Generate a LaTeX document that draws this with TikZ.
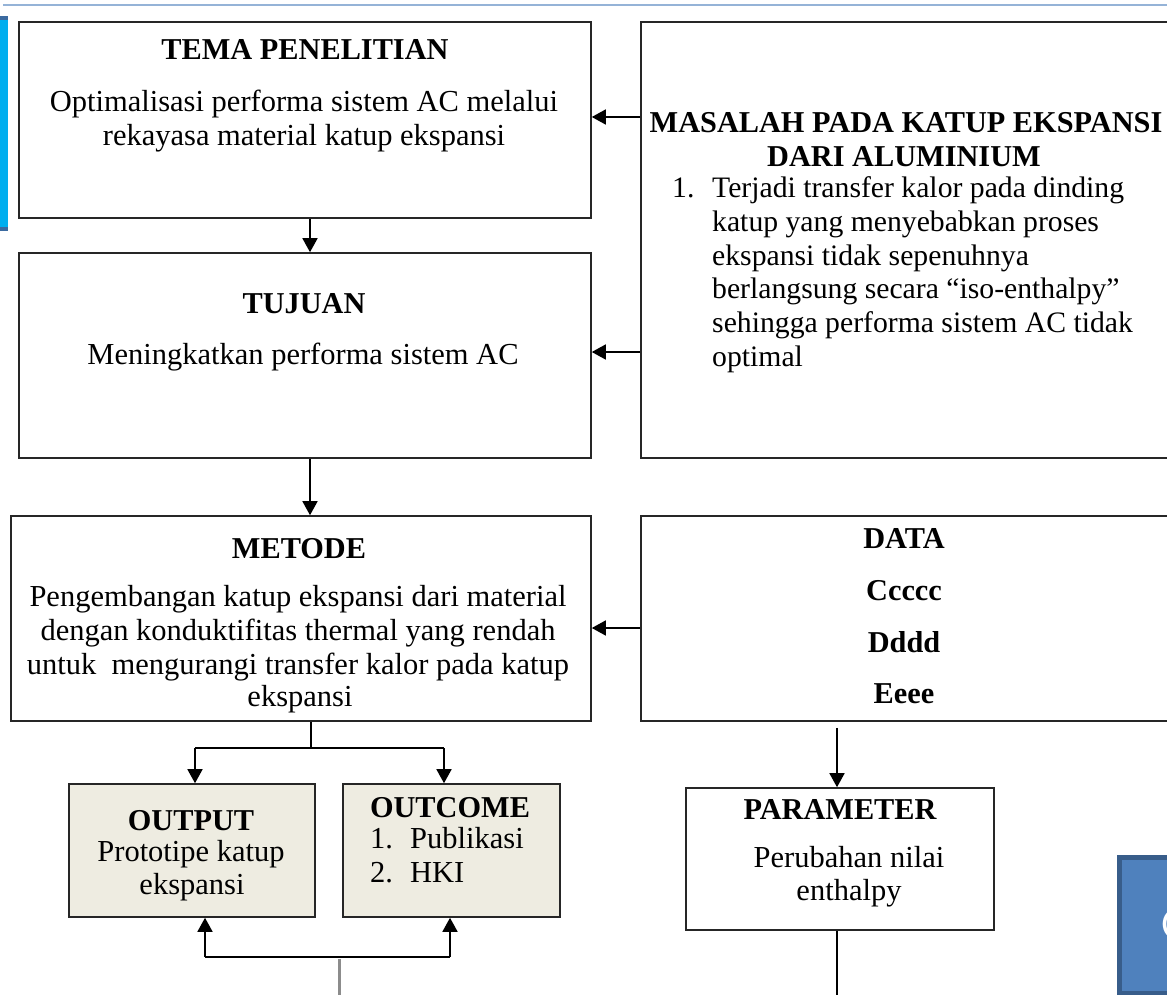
\documentclass[tikz,border=0pt]{standalone}
\usepackage{fontspec}
\setmainfont{Liberation Serif}
\usetikzlibrary{arrows.meta,calc}
\definecolor{boxline}{HTML}{262626}
\definecolor{beige}{HTML}{EEECE1}
\definecolor{topline}{HTML}{95B3D7}
\definecolor{barcyan}{HTML}{00AEEF}
\definecolor{bardark}{HTML}{3B6AA0}
\definecolor{accfill}{HTML}{4F81BD}
\definecolor{accline}{HTML}{385D8A}
\definecolor{grayline}{HTML}{8C8C8C}
\begin{document}
\begin{tikzpicture}[x=1pt,y=-1pt,
  box/.style={draw=boxline,line width=1.6pt,rectangle,inner sep=0pt,fill=white},
  shaded/.style={box,fill=beige},
  arr/.style={draw=black,line width=1.6pt,-{Triangle[width=15pt,length=14pt]}},
  ln/.style={draw=black,line width=1.6pt},
  txt/.style={font=\fontsize{30.5}{34}\selectfont,inner sep=0pt},
  lst/.style={font=\fontsize{29.7}{34}\selectfont,inner sep=0pt},
  hd/.style={font=\fontsize{30.3}{34}\selectfont\bfseries,inner sep=0pt}]
\useasboundingbox (0,0) rectangle (1167,995);

% decorations
\draw[topline,line width=2.5pt] (3,5) -- (1172,5);
\fill[barcyan] (0,16) rectangle (8,231);
\fill[bardark] (0,16) rectangle (8,20);
\fill[bardark] (0,227) rectangle (8,231);
\node[draw=accline,line width=5pt,fill=accfill,rectangle,inner sep=0pt,
  minimum width=60pt,minimum height=136pt] (acc) at (1149,925) {};
\node[anchor=west,text=white,font=\fontsize{44}{50}\selectfont\sffamily,inner sep=0pt] (acct) at (1160,924) {C};

% boxes
\node[box,minimum width=572pt,minimum height=196pt] (tema) at (305,120) {};
\node[box,minimum width=572pt,minimum height=205pt] (tujuan) at (305,355.5) {};
\node[box,minimum width=531pt,minimum height=436pt] (masalah) at (906.5,240) {};
\node[box,minimum width=580pt,minimum height=205pt] (metode) at (301,618.5) {};
\node[box,minimum width=531pt,minimum height=205pt] (data) at (906.5,618.5) {};
\node[shaded,minimum width=246pt,minimum height=133pt] (output) at (192,850.5) {};
\node[shaded,minimum width=217pt,minimum height=133pt] (outcome) at (451.5,850.5) {};
\node[box,minimum width=308pt,minimum height=142pt] (param) at (840,859) {};

% TEMA
\node[hd,anchor=base] (t1) at (305,60) {TEMA PENELITIAN};
\node[txt,anchor=base] (t2) at (304,112) {Optimalisasi performa sistem AC melalui};
\node[txt,anchor=base] (t3) at (304,146) {rekayasa material katup ekspansi};

% MASALAH
\node[hd,anchor=base] (m1) at (906,133) {MASALAH PADA KATUP EKSPANSI};
\node[hd,anchor=base] (m2) at (904,167) {DARI ALUMINIUM};
\node[lst,anchor=base west] (mn) at (672,198) {1.};
\node[lst,anchor=base west] (m3) at (712,198) {Terjadi transfer kalor pada dinding};
\node[lst,anchor=base west] (m4) at (712,231.6) {katup yang menyebabkan proses};
\node[lst,anchor=base west] (m5) at (712,265.2) {ekspansi tidak sepenuhnya};
\node[lst,anchor=base west] (m6) at (712,298.8) {berlangsung secara “iso-enthalpy”};
\node[lst,anchor=base west] (m7) at (712,332.4) {sehingga performa sistem AC tidak};
\node[lst,anchor=base west] (m8) at (712,366) {optimal};

% TUJUAN
\node[hd,anchor=base] (u1) at (304,313) {TUJUAN};
\node[txt,anchor=base] (u2) at (303,364) {Meningkatkan performa sistem AC};

% METODE
\node[hd,anchor=base] (d1) at (299,558) {METODE};
\node[txt,anchor=base] (d2) at (298,606) {Pengembangan katup ekspansi dari material};
\node[txt,anchor=base] (d3) at (298,640) {dengan konduktifitas thermal yang rendah};
\node[txt,anchor=base] (d4) at (298,674) {untuk~ mengurangi transfer kalor pada katup};
\node[txt,anchor=base] (d5) at (300,706) {ekspansi};

% DATA
\node[hd,anchor=base] (a1) at (904,548) {DATA};
\node[hd,anchor=base] (a2) at (904,600) {Ccccc};
\node[hd,anchor=base] (a3) at (904,652) {Dddd};
\node[hd,anchor=base] (a4) at (904,703) {Eeee};

% OUTPUT
\node[hd,anchor=base] (o1) at (191,830) {OUTPUT};
\node[txt,anchor=base] (o2) at (191,861) {Prototipe katup};
\node[txt,anchor=base] (o3) at (192,894) {ekspansi};

% OUTCOME
\node[hd,anchor=base] (c1) at (450,817) {OUTCOME};
\node[txt,anchor=base west] (c2n) at (370,848) {1.};
\node[txt,anchor=base west] (c2) at (410,848) {Publikasi};
\node[txt,anchor=base west] (c3n) at (370,882) {2.};
\node[txt,anchor=base west] (c3) at (410,882) {HKI};

% PARAMETER
\node[hd,anchor=base] (p1) at (840,819) {PARAMETER};
\node[txt,anchor=base] (p2) at (849,867) {Perubahan nilai};
\node[txt,anchor=base] (p3) at (849,900) {enthalpy};

% helper coordinates
\coordinate (y117) at (0,117);
\coordinate (y352) at (0,352);
\coordinate (y628) at (0,628);
\coordinate (x310) at (310,0);
\coordinate (x311) at (311,0);
\coordinate (x837) at (837,0);
\coordinate (split) at (311,748);
\coordinate (sl) at (195,748);
\coordinate (sr) at (444,748);
\coordinate (bl) at (205,957);
\coordinate (br) at (450,957);
\coordinate (bm) at (339,959);
\coordinate (bmend) at (339,1000);
\coordinate (pend) at (837,1000);

% connectors
\draw[arr] (masalah.west |- y117) -- (tema.east |- y117);
\draw[arr] (masalah.west |- y352) -- (tujuan.east |- y352);
\draw[arr] (data.west |- y628) -- (metode.east |- y628);
\draw[arr] (tema.south -| x310) -- (tujuan.north -| x310);
\draw[arr] (tujuan.south -| x310) -- (metode.north -| x310);
\draw[ln] (metode.south -| x311) -- (split);
\draw[ln] (sl) -- (sr);
\draw[arr] (sl) -- (output.north -| sl);
\draw[arr] (sr) -- (outcome.north -| sr);
\draw[arr] ([yshift=-6pt]data.south -| x837) -- (param.north -| x837);
\draw[ln] (param.south -| x837) -- (pend);
\draw[ln] (bl) -- (br);
\draw[arr] (bl) -- (output.south -| bl);
\draw[arr] (br) -- (outcome.south -| br);
\draw[grayline,line width=3pt] (bm) -- (bmend);
\end{tikzpicture}
\end{document}
